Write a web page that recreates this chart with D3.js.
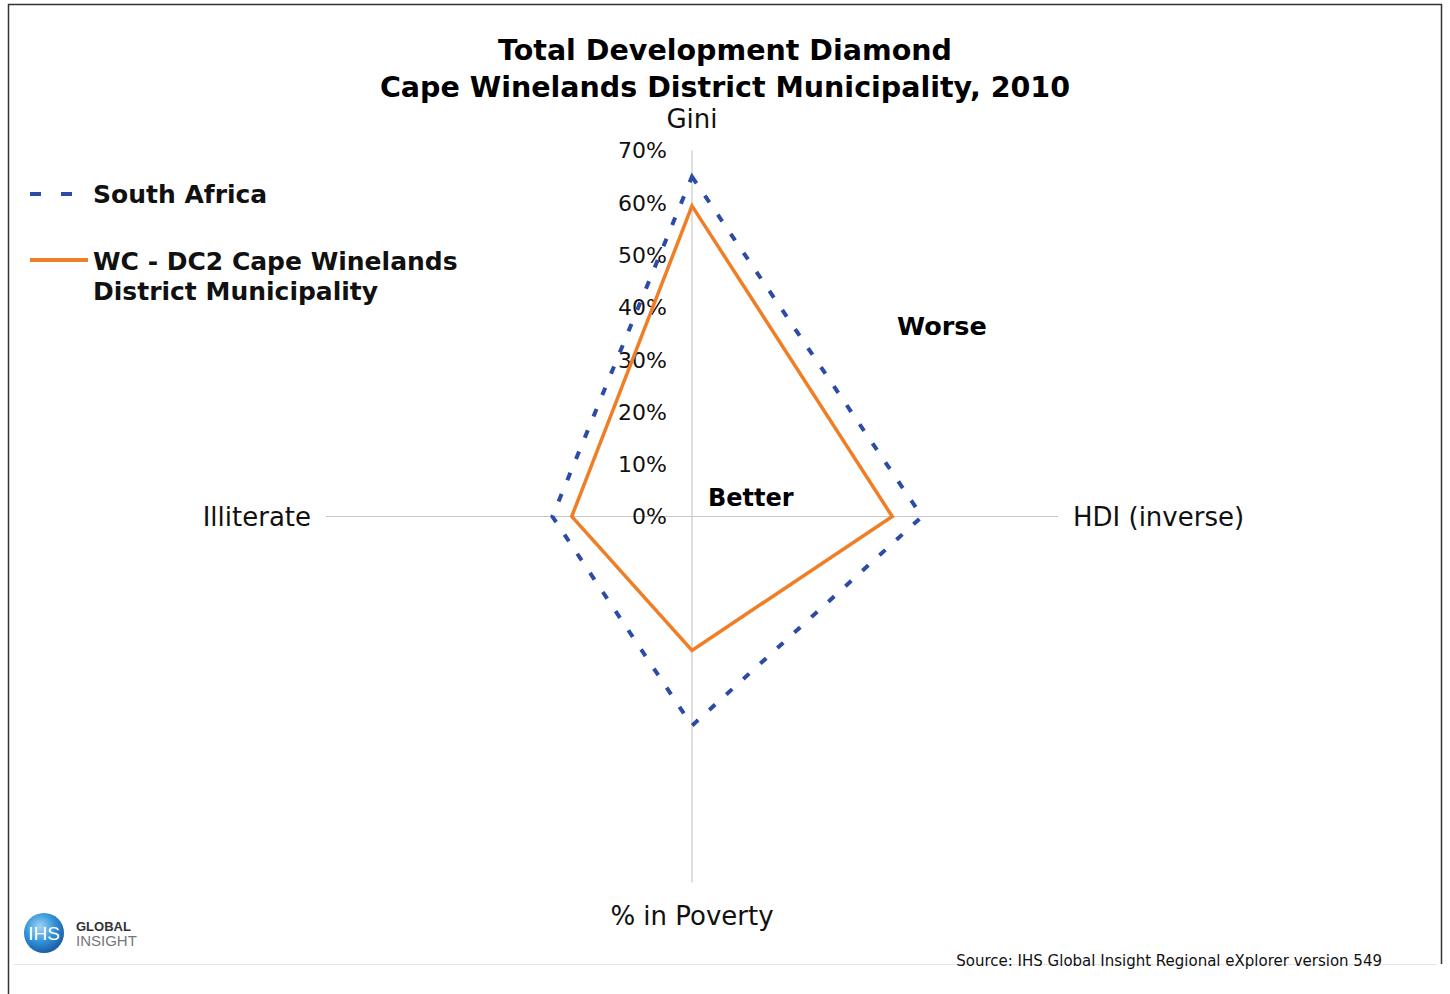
<!DOCTYPE html>
<html>
<head>
<meta charset="utf-8">
<script src="https://cdn.jsdelivr.net/npm/d3@7"></script>
<style>
  html, body { margin: 0; padding: 0; background: #fff; }
  svg { display: block; }
</style>
</head>
<body>
<svg id="chart" width="1450" height="994"></svg>
<script>
// Development indicators (axes of the diamond, clockwise from top)
const axes = ["Gini", "HDI (inverse)", "% in Poverty", "Illiterate"];
const southAfrica = [0.65, 0.44, 0.40, 0.267];
const capeWinelands = [0.594, 0.383, 0.256, 0.23];
const tickValues = [0, 0.1, 0.2, 0.3, 0.4, 0.5, 0.6, 0.7];
const seriesNames = ["South Africa", "WC - DC2 Cape Winelands District Municipality"];

const svg = d3.select("#chart");
const cx = 692, cy = 516.5;
const r = d3.scaleLinear().domain([0, 0.7]).range([0, 366]);
const angle = d3.scalePoint().domain(axes).range([0, 2 * Math.PI * 3 / 4]);
const font = "DejaVu Sans, Verdana, sans-serif";

// frame
svg.append("path")
  .attr("d", "M8.5,994 L8.5,4.5 L1441.5,4.5 L1441.5,964")
  .attr("fill", "none").attr("stroke", "#333").attr("stroke-width", 1.5);
svg.append("line").attr("x1", 14).attr("x2", 1436).attr("y1", 964.5).attr("y2", 964.5)
  .attr("stroke", "#e4e4e4").attr("stroke-width", 1);

// title
const title = svg.append("text").attr("text-anchor", "middle")
  .attr("font-family", font).attr("font-weight", "bold").attr("font-size", 28.5).attr("fill", "#000");
title.append("tspan").attr("x", 725).attr("y", 60).text("Total Development Diamond");
title.append("tspan").attr("x", 725).attr("y", 97).text("Cape Winelands District Municipality, 2010");

const g = svg.append("g").attr("transform", `translate(${cx},${cy})`);

// axis spokes
axes.forEach(a => {
  const th = angle(a);
  g.append("line")
    .attr("x1", 0).attr("y1", 0)
    .attr("x2", r(0.7) * Math.sin(th)).attr("y2", -r(0.7) * Math.cos(th))
    .attr("stroke", "#c8c8c8").attr("stroke-width", 1.2);
});

// tick labels along the vertical spoke
g.selectAll("text.tick").data(tickValues).join("text")
  .attr("class", "tick")
  .attr("x", -25).attr("y", d => -r(d))
  .attr("dy", "0.36em")
  .attr("text-anchor", "end")
  .attr("font-family", font).attr("font-size", 22).attr("fill", "#111")
  .text(d3.format(".0%"));

// axis names
const labelPos = {
  "Gini": { x: 0, y: -r(0.7) - 32, anchor: "middle" },
  "HDI (inverse)": { x: r(0.7) + 15, y: 0, anchor: "start" },
  "% in Poverty": { x: 0, y: r(0.7) + 33, anchor: "middle" },
  "Illiterate": { x: -r(0.7) - 15, y: 0, anchor: "end" }
};
axes.forEach(a => {
  const p = labelPos[a];
  g.append("text").attr("x", p.x).attr("y", p.y).attr("dy", "0.36em")
    .attr("text-anchor", p.anchor)
    .attr("font-family", font).attr("font-size", 26).attr("fill", "#111")
    .text(a);
});

// series polygons
const radial = d3.lineRadial()
  .angle((d, i) => angle(axes[i]))
  .radius(d => r(d))
  .curve(d3.curveLinearClosed);

g.append("path").datum(southAfrica)
  .attr("d", radial)
  .attr("fill", "none").attr("stroke", "#2B4BA6").attr("stroke-width", 4)
  .attr("stroke-dasharray", "8 15");

g.append("path").datum(capeWinelands)
  .attr("d", radial)
  .attr("fill", "none").attr("stroke", "#F07E26").attr("stroke-width", 3.5)
  .attr("stroke-linejoin", "miter");

// region annotations
svg.append("text").attr("x", 897).attr("y", 335)
  .attr("font-family", font).attr("font-weight", "bold").attr("font-size", 25.5).text("Worse");
svg.append("text").attr("x", 708).attr("y", 506)
  .attr("font-family", font).attr("font-weight", "bold").attr("font-size", 24).text("Better");

// legend
const leg = svg.append("g").attr("font-family", font).attr("font-weight", "bold")
  .attr("font-size", 25).attr("fill", "#111");
leg.append("line").attr("x1", 30).attr("x2", 78).attr("y1", 194).attr("y2", 194)
  .attr("stroke", "#2B4BA6").attr("stroke-width", 4).attr("stroke-dasharray", "11 20");
leg.append("text").attr("x", 93).attr("y", 203).text(seriesNames[0]);
leg.append("line").attr("x1", 30).attr("x2", 88).attr("y1", 260).attr("y2", 260)
  .attr("stroke", "#F07E26").attr("stroke-width", 4);
const lt = leg.append("text").attr("y", 270);
lt.append("tspan").attr("x", 93).text("WC - DC2 Cape Winelands");
lt.append("tspan").attr("x", 93).attr("y", 300).text("District Municipality");

// logo
const defs = svg.append("defs");
const grad = defs.append("radialGradient").attr("id", "logoGrad")
  .attr("cx", "40%").attr("cy", "35%").attr("r", "65%");
grad.append("stop").attr("offset", "0%").attr("stop-color", "#9fd6f5");
grad.append("stop").attr("offset", "60%").attr("stop-color", "#2f8fd6");
grad.append("stop").attr("offset", "100%").attr("stop-color", "#1a5fa8");
svg.append("circle").attr("cx", 44).attr("cy", 933).attr("r", 20).attr("fill", "url(#logoGrad)");
svg.append("text").attr("x", 44).attr("y", 940).attr("text-anchor", "middle")
  .attr("font-family", "Liberation Sans Narrow, Liberation Sans, sans-serif").attr("font-size", 19)
  .attr("fill", "#fff").text("IHS");
svg.append("text").attr("x", 76).attr("y", 931)
  .attr("font-family", "Liberation Sans, sans-serif").attr("font-weight", "bold").attr("font-size", 13)
  .attr("fill", "#333").text("GLOBAL");
svg.append("text").attr("x", 76).attr("y", 946)
  .attr("font-family", "Liberation Sans, sans-serif").attr("font-size", 15)
  .attr("fill", "#777").text("INSIGHT");

// source
svg.append("text").attr("x", 1382).attr("y", 966).attr("text-anchor", "end")
  .attr("font-family", font).attr("font-size", 15).attr("fill", "#111")
  .text("Source: IHS Global Insight Regional eXplorer version 549");
</script>
</body>
</html>
